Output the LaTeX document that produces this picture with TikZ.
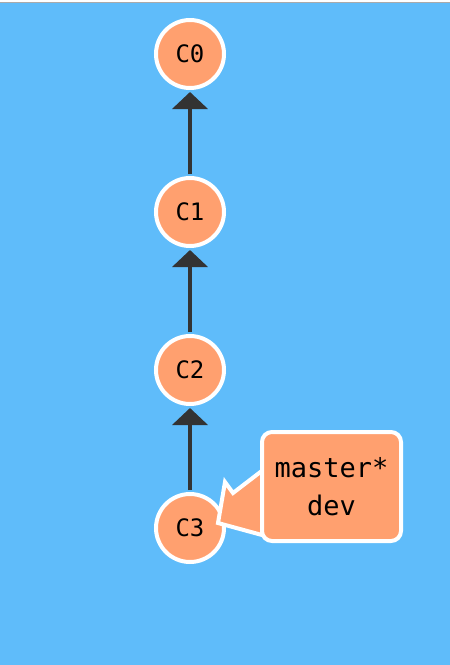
\documentclass[tikz,border=0pt]{standalone}
\usepackage{fontspec}
\setmonofont{DejaVu Sans Mono}
\usepackage{xcolor}
\usetikzlibrary{arrows.meta,calc}
\definecolor{skyblue}{RGB}{95,188,250}
\definecolor{commitorange}{RGB}{255,160,111}
\definecolor{linegray}{RGB}{51,51,51}
\definecolor{framegray}{RGB}{170,170,170}

\begin{document}
\begin{tikzpicture}[
  x=1pt, y=-1pt,
  commit/.style={circle, draw=white, line width=4pt, fill=commitorange,
    minimum size=68pt, inner sep=0pt, font=\ttfamily\fontsize{24}{24}\selectfont},
  parent/.style={draw=linegray, line width=4pt,
    -{Triangle[length=17pt, width=35pt]}, shorten >=2pt, shorten <=2pt},
  branch/.style={rectangle, rounded corners=10pt, draw=white, line width=4pt,
    fill=commitorange, minimum width=139pt, minimum height=109pt, align=center,
    font=\ttfamily\fontsize{27}{38}\selectfont},
  pointer/.style={draw=white, line width=4pt, fill=commitorange, line join=miter}
]
% background
\fill[skyblue] (0,0) rectangle (450,665);
\fill[white] (0,0) rectangle (450,2);
\fill[framegray] (0,2) rectangle (450,3);
% commits
\foreach \i/\y in {0/54,1/212,2/370,3/528} {
  \node[commit] (C\i) at (190,\y) {C\i};
}
\foreach \a/\b in {1/0,2/1,3/2} {
  \draw[parent] (C\a) -- (C\b);
}
% branch label
\coordinate (ptip) at ($(C3)+(28,-5)$);
\draw[pointer] (263,470) -- (233,493) -- (225,482) -- (ptip) -- (262,535) -- cycle;
\node[branch] (head) at (331.5,486.5) {master*\\dev};
\end{tikzpicture}
\end{document}
